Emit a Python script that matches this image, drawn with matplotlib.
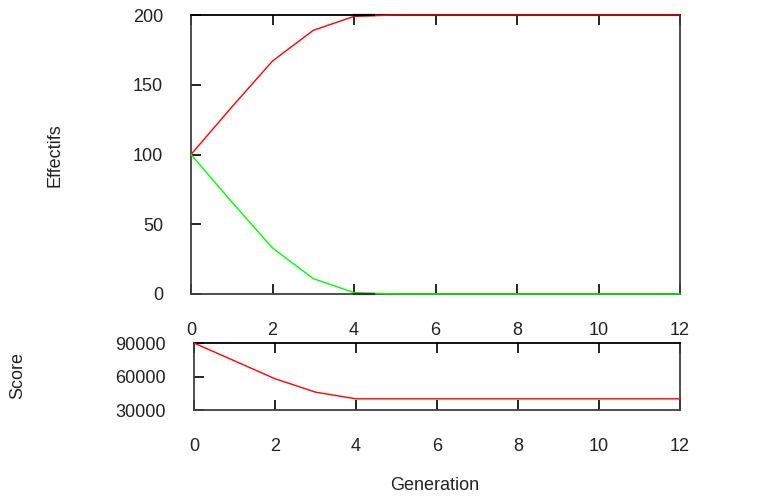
import matplotlib
matplotlib.use("Agg")
import matplotlib.pyplot as plt

generations = [0, 1, 2, 3, 4, 5, 6, 7, 8, 9, 10, 11, 12]
effectif_red = [100, 134, 167, 189, 199, 200, 200, 200, 200, 200, 200, 200, 200]
effectif_green = [100, 66, 33, 11, 1, 0, 0, 0, 0, 0, 0, 0, 0]
score = [90000, 74000, 58000, 46000, 40000, 40000, 40000, 40000, 40000, 40000, 40000, 40000, 40000]
overlay_x = [4, 4.5]
overlay_top = [200, 200]
overlay_bottom = [0, 0]

x_ticks = [0, 2, 4, 6, 8, 10, 12]
top_yticks = [0, 50, 100, 150, 200]
bottom_yticks = [30000, 60000, 90000]

plt.rcParams['font.family'] = ['Liberation Sans', 'DejaVu Sans']
fig = plt.figure(figsize=(7.83, 4.98), dpi=100)

ax1 = fig.add_axes([191/783, 1-294/498, (680-191)/783, (294-15)/498])
ax2 = fig.add_axes([194/783, 1-410/498, (680-194)/783, (410-343)/498])

spine_col = '#404040'
for ax in (ax1, ax2):
    for s in ax.spines.values():
        s.set_linewidth(1.3)
        s.set_color(spine_col)
    ax.spines['top'].set_color('black')
    ax.tick_params(direction='in', length=7, width=1.2, color='black',
                   top=True, right=False, labelsize=13, pad=20, labelcolor='#222222')
    ax.set_xlim(0, 12)
    ax.set_xticks(x_ticks)
    ax.set_xticklabels([str(t) for t in x_ticks])

ax1.plot(generations, effectif_red, color='#ff0000', lw=1.0, zorder=3, clip_on=False)
ax1.plot(generations, effectif_green, color='#00ff00', lw=1.0, zorder=3, clip_on=False)
ax1.plot(overlay_x, overlay_top, color='black', lw=1.6, zorder=4, clip_on=False)
ax1.plot(overlay_x, overlay_bottom, color='#333333', lw=1.6, zorder=4, clip_on=False)
ax1.set_ylim(0, 200)
ax1.set_yticks(top_yticks)
ax1.set_yticklabels([str(t) for t in top_yticks])

ax2.plot(generations, score, color='#ff0000', lw=1.0, zorder=3, clip_on=False)
ax2.set_ylim(30000, 90000)
ax2.set_yticks(bottom_yticks)
ax2.set_yticklabels([str(t) for t in bottom_yticks])

fig.text(55/783, 1-155/498, 'Effectifs', rotation=90, ha='center', va='center',
         fontsize=13, color='#222222')
fig.text(18/783, 1-375/498, 'Score', rotation=90, ha='center', va='center',
         fontsize=13, color='#222222')
fig.text(435/783, 1-485/498, 'Generation', ha='center', va='center',
         fontsize=13, color='#222222')

fig.savefig('out.png', dpi=100)
